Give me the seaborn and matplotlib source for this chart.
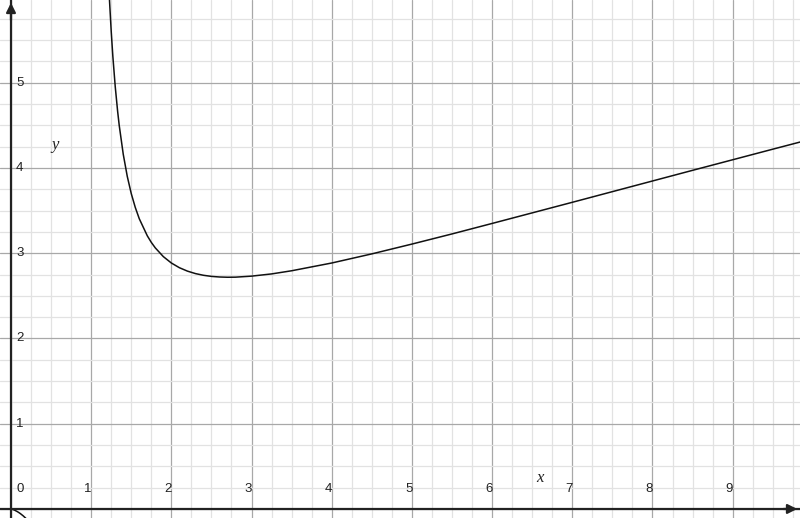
import numpy as np
import pandas as pd
import matplotlib
matplotlib.use("Agg")
import matplotlib.pyplot as plt
import seaborn as sns

# values (curve y against x)
x_right = [1.20, 1.21, 1.22, 1.23, 1.25, 1.27, 1.30, 1.33, 1.35, 1.40, 1.45, 1.50,
           1.55, 1.60, 1.70, 1.75, 1.80, 1.90, 2.00, 2.10, 2.20, 2.30, 2.40, 2.50,
           2.60, 2.70, 2.80, 3.00, 3.25, 3.50, 4.00, 4.50, 5.00, 5.50, 6.00, 6.50,
           7.00, 7.50, 8.00, 8.50, 9.00, 9.50, 10.00]
y_right = [6.582, 6.348, 6.135, 5.942, 5.602, 5.313, 4.955, 4.664, 4.498, 4.161, 3.902, 3.699,
           3.537, 3.404, 3.204, 3.127, 3.062, 2.960, 2.885, 2.830, 2.790, 2.761, 2.741, 2.728,
           2.721, 2.718, 2.719, 2.731, 2.757, 2.794, 2.885, 2.992, 3.107, 3.226, 3.349, 3.473,
           3.597, 3.722, 3.847, 3.972, 4.096, 4.220, 4.343]
x_left = [0.0, 0.01, 0.03, 0.05, 0.08, 0.10, 0.12, 0.15, 0.18, 0.20]
y_left = [0.0, -0.0022, -0.0086, -0.0167, -0.0317, -0.0434, -0.0567, -0.0791, -0.105, -0.124]

x_ticks = [0, 1, 2, 3, 4, 5, 6, 7, 8, 9]
y_ticks = [1, 2, 3, 4, 5]

sns.set_theme(style="white")
plt.rcParams["font.family"] = ["Liberation Sans", "DejaVu Sans"]

fig = plt.figure(figsize=(8, 5.18), dpi=100)
ax = fig.add_axes([0, 0, 1, 1])
ax.set_xlim(-0.137, 9.84)
ax.set_ylim(-0.106, 5.97)

# grid
for v in np.arange(0, 10.01, 0.25):
    major = abs(v - round(v)) < 1e-9
    ax.axvline(v, color="#a8a8a8" if major else "#e2e2e2", lw=0.9, zorder=0)
for v in np.arange(0, 6.01, 0.25):
    major = abs(v - round(v)) < 1e-9
    ax.axhline(v, color="#a8a8a8" if major else "#e2e2e2", lw=0.9, zorder=0)

# axes through the origin
for s in ["top", "right"]:
    ax.spines[s].set_visible(False)
ax.spines["left"].set_position(("data", 0))
ax.spines["bottom"].set_position(("data", 0))
ax.spines["left"].set_linewidth(1.6)
ax.spines["bottom"].set_linewidth(1.6)
ax.spines["left"].set_color("#222222")
ax.spines["bottom"].set_color("#222222")
ax.set_xticks(np.arange(0.25, 9.9, 0.25))
ax.set_yticks(np.arange(0.25, 5.9, 0.25))
ax.tick_params(direction="inout", length=6, width=1.4, color="#222222",
               labelbottom=False, labelleft=False)

ax.annotate("", xy=(1.0, 0), xycoords=("axes fraction", "data"),
            xytext=(9.6, 0), textcoords="data",
            arrowprops=dict(arrowstyle="-|>", color="#222222", lw=1.6, mutation_scale=14))
ax.annotate("", xy=(0, 1.0), xycoords=("data", "axes fraction"),
            xytext=(0, 5.7), textcoords="data",
            arrowprops=dict(arrowstyle="-|>", color="#222222", lw=1.6, mutation_scale=14))

# tick labels
for t in x_ticks:
    dx = 0.11 if t == 0 else -0.04
    ax.text(t + dx, 0.24, str(t), fontsize=9.5, ha="center", va="center", color="#222222")
for t in y_ticks:
    ax.text(0.11, t, str(t), fontsize=9.5, ha="center", va="center", color="#222222")

ax.text(6.6, 0.36, "x", fontsize=12, style="italic", family="Liberation Serif",
        ha="center", va="center", color="#222222")
ax.text(0.55, 4.27, "y", fontsize=12, style="italic", family="Liberation Serif",
        ha="center", va="center", color="#222222")

# curve
sns.lineplot(x=x_right, y=y_right, sort=False, estimator=None, color="#111111", lw=1.1, ax=ax)
sns.lineplot(x=x_left, y=y_left, sort=False, estimator=None, color="#111111", lw=1.1, ax=ax)
ax.set_xlabel("")
ax.set_ylabel("")

fig.savefig("out.png", dpi=100)
